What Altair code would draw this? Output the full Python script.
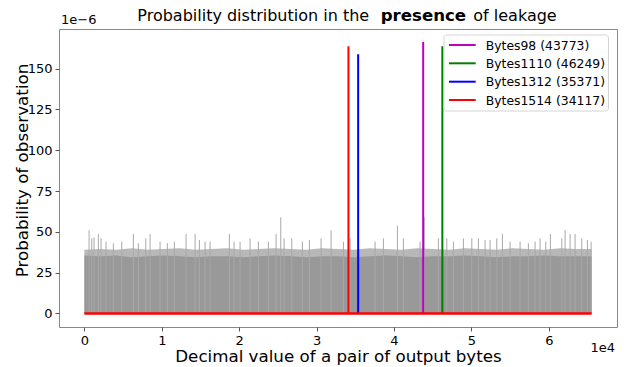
import altair as alt
import pandas as pd

# ---- data (probabilities in units of 1e-6) ----
series_names = ["Bytes98", "Bytes1110", "Bytes1312", "Bytes1514"]
peak_pos = [43773, 46249, 35371, 34117]
peak_val = [166.3, 163.8, 158.9, 163.8]
series_colors = ["#bf00bf", "#008000", "#0000ff", "#ff0000"]

body_x = [0, 2048, 4096, 6144, 8192, 10240, 12288, 14336, 16384, 18432, 20480,
          22528, 24576, 26624, 28672, 30720, 32768, 34816, 36864, 38912, 40960,
          43008, 45056, 47104, 49152, 51200, 53248, 55296, 57344, 59392, 61440,
          63488, 65535]
body_top = [35.5, 35, 35.5, 34.5, 35, 35.5, 35, 34.5, 35, 35, 34.5,
            35, 35.5, 35, 34.5, 35, 35, 34.5, 35, 35.5, 35, 34.5, 35,
            35, 35.5, 35, 34.5, 35, 35, 35.5, 35, 35, 35]
fringe_top = [39, 39.5, 39, 40, 39, 39.5, 40, 39, 39.5, 40, 39,
              39.5, 40, 39.5, 39, 40, 39.5, 39, 40, 39.5, 39, 40, 39.5,
              39, 40, 39.5, 39, 40, 39.5, 39, 40, 39.5, 39.5]

spike_x = [607, 956, 1253, 1809, 2158, 2800, 3747, 4832, 6331, 6977, 7933, 8489,
           9780, 10724, 11628, 13140, 14306, 14858, 15596, 16242, 18734, 19341,
           20116, 21408, 22481, 23773, 24768, 25375, 25801, 26796, 28166, 29070,
           30582, 31874, 33463, 34328, 37558, 38631, 40440, 41215, 43373, 43890,
           45737, 46822, 47676, 48968, 50053, 50906, 51770, 52416, 53282, 54006,
           54999, 56292, 57364, 58230, 58876, 59612, 60207, 61680, 62106, 62753,
           63398, 64264, 64988, 65466]
spike_h = [51, 46, 46.6, 48.7, 46, 44, 43, 44, 48.7, 43, 46, 48.7, 44, 43, 44,
           48.7, 48.7, 45, 44, 44,
           48.7, 44, 44, 46, 44, 44, 48.7, 58.9, 46, 46, 44, 45, 46, 51, 44,
           46, 44, 46, 53.8, 46, 44, 58.9, 46, 46, 44, 46, 46, 46, 45,
           45, 46, 48.7, 44, 44, 43, 44, 46, 44, 48.7, 46, 51, 48.7, 48.7, 46, 45, 44]

x_ticks = [0, 10000, 20000, 30000, 40000, 50000, 60000]
y_ticks = [0, 25, 50, 75, 100, 125, 150]
x_max = 65535

labels = [f"{n} ({p})" for n, p in zip(series_names, peak_pos)]

body_df = pd.DataFrame({"x": body_x, "top": body_top, "fringe": fringe_top, "zero": 0})
spike_df = pd.DataFrame({"x": spike_x, "h": spike_h, "zero": 0})
peak_df = pd.DataFrame({"x": peak_pos, "v": peak_val, "zero": 0, "label": labels})
base_df = pd.DataFrame({"x": [0], "x2": [x_max], "y": [0]})
one = pd.DataFrame({"a": [0]})

xscale = alt.Scale(domain=[-3277, 68812], nice=False, zero=False)
yscale = alt.Scale(domain=[-8.3, 174.3], nice=False, zero=False)

xaxis = alt.Axis(values=x_ticks, labelExpr="datum.value / 10000",
                 title="Decimal value of a pair of output bytes",
                 titleX=279, titleY=34, titleBaseline="alphabetic",
                 titleAlign="center")
yaxis = alt.Axis(values=y_ticks, title="Probability of observation",
                 titleX=-37, titleY=141, titleAngle=-90, titleAlign="center",
                 titleBaseline="middle")

fringe = alt.Chart(body_df).mark_area(color="#b8b8b8").encode(
    x=alt.X("x:Q", scale=xscale, axis=xaxis),
    y=alt.Y("fringe:Q", scale=yscale, axis=yaxis),
    y2="zero:Q",
)
body = alt.Chart(body_df).mark_area(color="#999999").encode(
    x=alt.X("x:Q", scale=xscale),
    y=alt.Y("top:Q", scale=yscale),
    y2="zero:Q",
)
spikes = alt.Chart(spike_df).mark_rule(color="#a8a8a8", strokeWidth=1).encode(
    x=alt.X("x:Q", scale=xscale),
    y=alt.Y("h:Q", scale=yscale),
    y2="zero:Q",
)
peaks = alt.Chart(peak_df).mark_rule(strokeWidth=2).encode(
    x=alt.X("x:Q", scale=xscale),
    y=alt.Y("v:Q", scale=yscale),
    y2="zero:Q",
    color=alt.Color("label:N", scale=alt.Scale(domain=labels, range=series_colors),
                    legend=None),
)
baseline = alt.Chart(base_df).mark_rule(color="#ff0000", strokeWidth=2.5).encode(
    x=alt.X("x:Q", scale=xscale), x2="x2:Q", y=alt.Y("y:Q", scale=yscale)
)

def txt(s, x, y, size=16, weight="normal", align="left"):
    return alt.Chart(pd.DataFrame({"t": [s]})).mark_text(
        align=align, baseline="alphabetic", fontSize=size, font="DejaVu Sans",
        fontWeight=weight, color="black"
    ).encode(x=alt.value(x), y=alt.value(y), text="t:N")

t1 = txt("Probability distribution in the", 78.3, -7.6)
t2 = txt("presence", 321.7, -7.6, size=16.6, weight="bold")
t3 = txt("of leakage", 414.3, -7.6)
e6 = txt("1e\u22126", 2, -5, size=13)
e4 = txt("1e4", 556, 323, size=13, align="right")

# manual legend
legend_layers = [
    alt.Chart(one).mark_rect(fill="white", stroke="#d0d0d0", strokeWidth=1,
                             cornerRadius=3, opacity=0.9).encode(
        x=alt.value(385), x2=alt.value(549.5), y=alt.value(6), y2=alt.value(82))
]
row_y = [16, 34.3, 52.7, 71]
for lab, col, ry in zip(labels, series_colors, row_y):
    legend_layers.append(
        alt.Chart(one).mark_rule(color=col, strokeWidth=2).encode(
            x=alt.value(390), x2=alt.value(416.7), y=alt.value(ry)))
    legend_layers.append(
        alt.Chart(pd.DataFrame({"t": [lab]})).mark_text(
            align="left", baseline="middle", fontSize=12.4, font="DejaVu Sans",
            color="black").encode(x=alt.value(426.7), y=alt.value(ry + 0.5), text="t:N"))

chart = alt.layer(fringe, body, spikes, peaks, baseline, t1, t2, t3, e6, e4,
                  *legend_layers).properties(
    width=558, height=298,
    autosize=alt.AutoSizeParams(type="none"),
    padding={"left": 51, "top": 21, "right": 4, "bottom": 39},
).configure_view(stroke="#888888", strokeWidth=1).configure_axis(
    grid=False, domain=False, tickColor="#555555", tickSize=4, labelFontSize=13,
    labelFont="DejaVu Sans", labelColor="#000000", titleFont="DejaVu Sans",
    titleFontSize=16.7, titleFontWeight="normal", titleColor="#000000", labelPadding=3
)

chart.save("out.html", embed_options={"renderer": "svg", "actions": False})
